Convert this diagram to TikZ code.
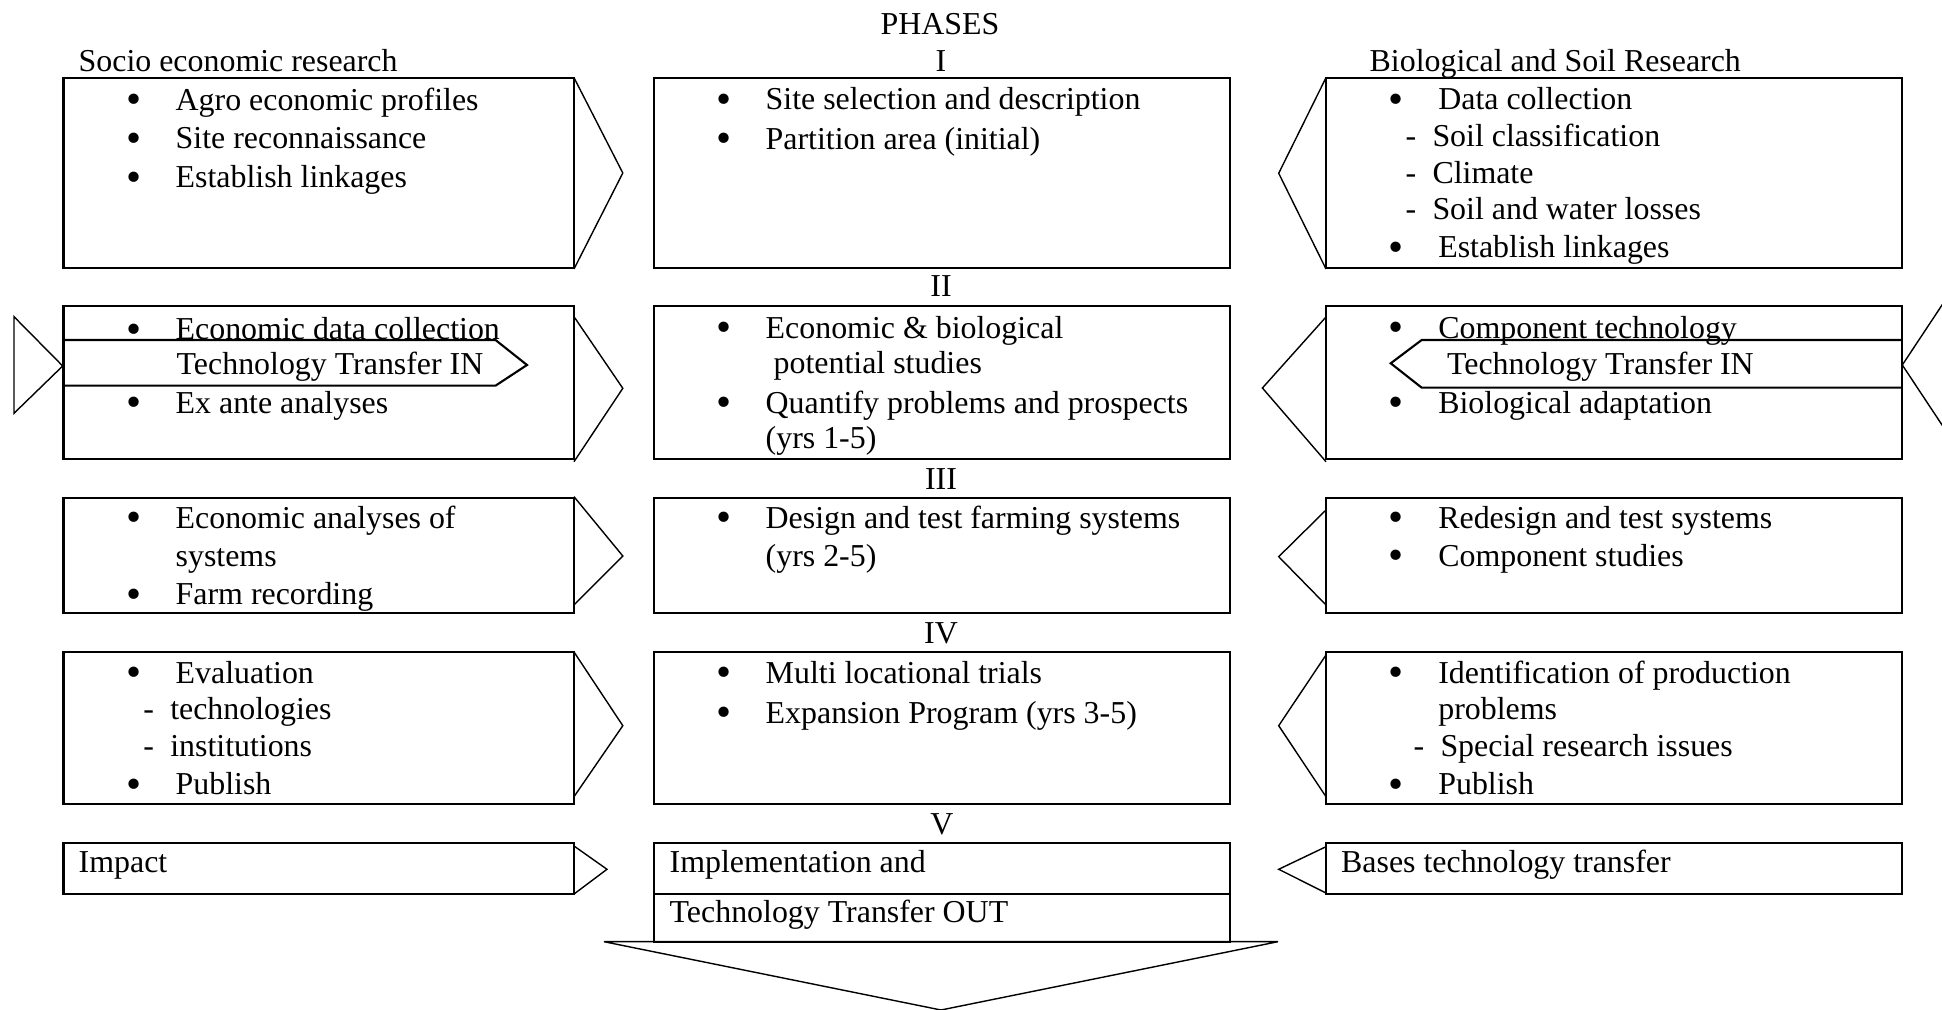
\documentclass[tikz,border=0pt]{standalone}
\usepackage{fontspec}
\setmainfont{Liberation Serif}
\usetikzlibrary{fit}
% bullet and dash prefixes hanging to the left of a line's text
\newcommand{\bu}{\llap{\makebox[0pt]{\raisebox{-0.1em}{\scalebox{1.35}{\textbullet}}}\hspace{4.2mm}}}
\newcommand{\da}{\llap{-\hspace{1.63mm}}}
\tikzset{
  frame/.style={draw, line width=0.6pt, inner sep=0pt, fit={#1}},
  chev/.style={draw, line width=0.4pt, line join=miter},
  band/.style={draw, line width=0.6pt, line join=miter},
  txt/.style={anchor=base west, inner sep=0pt, font=\fontsize{9.07}{11}\selectfont},
  ctr/.style={anchor=base, inner sep=0pt, font=\fontsize{9.07}{11}\selectfont},
}
\begin{document}
\begin{tikzpicture}[x=0.01cm, y=-0.01cm]
\useasboundingbox (0,0) rectangle (1942,1010);

% ---- headings ----
\node[ctr] (phases) at (940,35) {PHASES};
\node[ctr] (ph1) at (941,71.7) {I};
\node[ctr] (ph2) at (941,297) {II};
\node[ctr] (ph3) at (941,490) {III};
\node[ctr] (ph4) at (941,643.3) {IV};
\node[ctr] (ph5) at (942,835) {V};
\node[txt] (socio) at (78,71.7) {Socio economic research};
\node[txt] (bio) at (1369,71.7) {Biological and Soil Research};

% ---- boxes ----
\node[frame={(63.5,77.7) (574,267.7)}] (L1) {};
\node[frame={(653.6,77.7) (1230.4,267.7)}] (C1) {};
\node[frame={(1326,77.7) (1902.3,267.7)}] (R1) {};
\node[frame={(63.5,306) (574,459)}] (L2) {};
\node[frame={(653.6,306) (1230.4,459)}] (C2) {};
\node[frame={(1326,306) (1902.3,459)}] (R2) {};
\node[frame={(63.5,498.3) (574,613.3)}] (L3) {};
\node[frame={(653.6,498.3) (1230.4,613.3)}] (C3) {};
\node[frame={(1326,498.3) (1902.3,613.3)}] (R3) {};
\node[frame={(63.5,652.3) (574,804.3)}] (L4) {};
\node[frame={(653.6,652.3) (1230.4,804.3)}] (C4) {};
\node[frame={(1326,652.3) (1902.3,804.3)}] (R4) {};
\node[frame={(63.5,843.3) (574,894)}] (L5) {};
\node[frame={(653.6,843.3) (1230.4,894)}] (C5a) {};
\node[frame={(653.6,894) (1230.4,941.7)}] (C5b) {};
\node[frame={(1326,843.3) (1902.3,894)}] (R5) {};

% ---- chevrons pointing to the centre column ----
\draw[chev] (574,77.7) -- (622.8,173) -- (574,269);
\draw[chev] (574,316.7) -- (622.8,388.3) -- (574,461.7);
\draw[chev] (574,496.7) -- (622.8,556) -- (574,605);
\draw[chev] (574,652) -- (622.8,725.7) -- (574,796.7);
\draw[chev] (574,846) -- (607,869.3) -- (574,894);

\draw[chev] (1326,77.7) -- (1278.7,173.3) -- (1326,269);
\draw[chev] (1326,317) -- (1262.4,388) -- (1326,461.7);
\draw[chev] (1326,510) -- (1278.7,556.7) -- (1326,605);
\draw[chev] (1326,655) -- (1278.7,725.7) -- (1326,796.7);
\draw[chev] (1326,846.7) -- (1278.7,869.3) -- (1326,893);

% ---- technology transfer in ----
\draw[chev] (14,316.7) -- (62.7,366) -- (14,413.3) -- cycle;
\draw[band] (63.5,340) -- (495.5,340) -- (527,365) -- (495.5,385.7) -- (63.5,385.7);
\draw[band] (1902.3,340) -- (1421.7,340) -- (1390.7,363.3) -- (1421.7,387.7) -- (1902.3,387.7);
\draw[chev] (1948,296) -- (1902.3,365) -- (1948,434);

% ---- output arrow ----
\draw[chev] (604,941.7) -- (1278,941.7) -- (941,1010) -- cycle;

% ---- row I ----
\node[txt] (l1a) at (175,110.7) {\bu Agro economic profiles};
\node[txt] (l1b) at (175,149) {\bu Site reconnaissance};
\node[txt] (l1c) at (175,188) {\bu Establish linkages};
\node[txt] (c1a) at (765,110) {\bu Site selection and description};
\node[txt] (c1b) at (765,149.3) {\bu Partition area (initial)};
\node[txt] (r1a) at (1437.6,110) {\bu Data collection};
\node[txt] (r1b) at (1431.8,146.7) {\da Soil classification};
\node[txt] (r1c) at (1431.8,183.3) {\da Climate};
\node[txt] (r1d) at (1431.8,220) {\da Soil and water losses};
\node[txt] (r1e) at (1437.6,258) {\bu Establish linkages};

% ---- row II ----
\node[txt] (l2a) at (175,340) {\bu Economic data collection};
\node[txt] (l2b) at (176,374.3) {Technology Transfer IN};
\node[txt] (l2c) at (175,413.3) {\bu Ex ante analyses};
\node[txt] (c2a) at (765,338.3) {\bu Economic \& biological};
\node[txt] (c2b) at (773,373.3) {potential studies};
\node[txt] (c2c) at (765,413.3) {\bu Quantify problems and prospects};
\node[txt] (c2d) at (765,448.3) {(yrs 1-5)};
\node[txt] (r2a) at (1437.6,338.3) {\bu Component technology};
\node[txt] (r2b) at (1446.4,374.3) {Technology Transfer IN};
\node[txt] (r2c) at (1437.6,413.3) {\bu Biological adaptation};

% ---- row III ----
\node[txt] (l3a) at (175,528.3) {\bu Economic analyses of};
\node[txt] (l3b) at (175,566.7) {systems};
\node[txt] (l3c) at (175,605) {\bu Farm recording};
\node[txt] (c3a) at (765,528.3) {\bu Design and test farming systems};
\node[txt] (c3b) at (765,566.7) {(yrs 2-5)};
\node[txt] (r3a) at (1437.6,528.3) {\bu Redesign and test systems};
\node[txt] (r3b) at (1437.6,566.7) {\bu Component studies};

% ---- row IV ----
\node[txt] (l4a) at (175,683.3) {\bu Evaluation};
\node[txt] (l4b) at (169.6,720) {\da technologies};
\node[txt] (l4c) at (169.6,756.7) {\da institutions};
\node[txt] (l4d) at (175,795) {\bu Publish};
\node[txt] (c4a) at (765,683.3) {\bu Multi locational trials};
\node[txt] (c4b) at (765,723.3) {\bu Expansion Program (yrs 3-5)};
\node[txt] (r4a) at (1437.6,683.3) {\bu Identification of production};
\node[txt] (r4b) at (1437.6,720) {problems};
\node[txt] (r4c) at (1439.8,756.7) {\da Special research issues};
\node[txt] (r4d) at (1437.6,795) {\bu Publish};

% ---- row V ----
\node[txt] (l5) at (78,872.7) {Impact};
\node[txt] (c5a) at (669,872.7) {Implementation and};
\node[txt] (c5b) at (669,922.7) {Technology Transfer OUT};
\node[txt] (r5) at (1340.5,872.7) {Bases technology transfer};
\end{tikzpicture}
\end{document}
